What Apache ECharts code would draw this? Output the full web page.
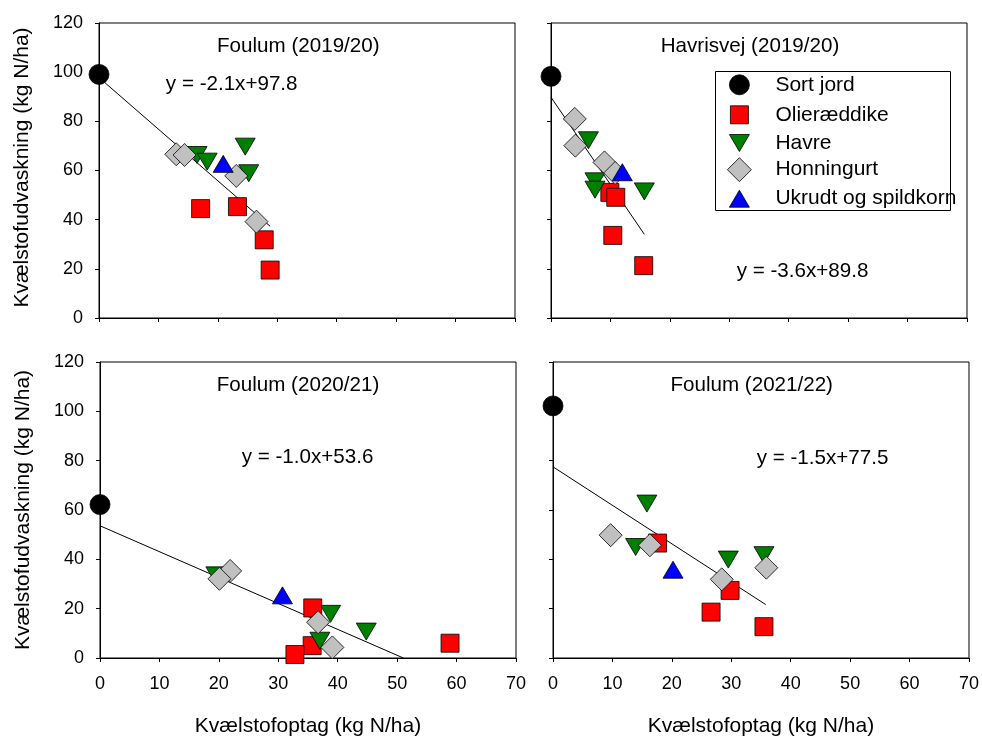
<!DOCTYPE html>
<html><head><meta charset="utf-8">
<script src="https://cdn.jsdelivr.net/npm/echarts@6/dist/echarts.min.js"></script>
<style>html,body{margin:0;padding:0;background:#fff}#c{width:982px;height:738px}</style>
</head><body><div id="c"></div>
<script>
const FONT = 'Liberation Sans, Arial, Helvetica, sans-serif';

// ---- text ----
const panelTitles = ['Foulum (2019/20)', 'Havrisvej (2019/20)', 'Foulum (2020/21)', 'Foulum (2021/22)'];
const equations = ['y = -2.1x+97.8', 'y = -3.6x+89.8', 'y = -1.0x+53.6', 'y = -1.5x+77.5'];
const groupNames = ['Sort jord', 'Olieræddike', 'Havre', 'Honningurt', 'Ukrudt og spildkorn'];
const xTitle = 'Kvælstofoptag (kg N/ha)';
const yTitle = 'Kvælstofudvaskning (kg N/ha)';

// ---- axes ----
const xMin = 0, xMax = 70, xStep = 10;
const yMin = 0, yMax = 120, yStep = 20;

// ---- data: one list per group, one sub-list per panel ([x, y]) ----
const sortJord = [
  [[0, 99.1]],
  [[0, 98.3]],
  [[0, 62.2]],
  [[0, 102.2]]
];
const olieraeddike = [
  [[17.1, 44.5], [23.3, 45.3], [27.8, 31.8], [28.8, 19.5]],
  [[9.9, 51.1], [10.9, 49.1], [10.4, 33.6], [15.6, 21.3]],
  [[35.8, 20.3], [35.7, 5.0], [32.8, 1.4], [58.9, 6.0]],
  [[17.6, 46.6], [29.8, 27.4], [26.6, 18.6], [35.5, 12.7]]
];
const havre = [
  [[24.6, 69.7], [16.5, 66.3], [18.2, 63.6], [25.2, 58.9]],
  [[6.3, 72.3], [7.4, 55.6], [7.4, 52.2], [15.7, 51.5]],
  [[19.5, 33.5], [38.8, 17.9], [44.8, 10.7], [37.0, 7.0]],
  [[15.8, 62.6], [13.9, 45.0], [29.5, 39.9], [35.5, 41.7]]
];
const honningurt = [
  [[13.0, 66.6], [14.4, 66.3], [23.1, 57.8], [26.5, 39.2]],
  [[4.0, 81.0], [4.1, 70.1], [9.0, 63.3], [10.8, 59.0]],
  [[21.9, 35.3], [20.1, 32.1], [36.7, 14.5], [39.1, 4.3]],
  [[9.7, 49.8], [16.3, 45.7], [28.4, 31.9], [35.9, 36.6]]
];
const ukrudt = [
  [[20.9, 62.7]],
  [[12.0, 59.3]],
  [[30.7, 25.4]],
  [[20.2, 35.8]]
];

// regression lines
const fitSlope = [-2.1, -3.55, -1.05, -1.56];
const fitIntercept = [97.8, 89.8, 53.6, 77.5];
const fitXEnd = [28.8, 15.7, 51.0, 35.8];

// ---- styles ----
const groupData = [sortJord, olieraeddike, havre, honningurt, ukrudt];
const groupColors = ['#000000', '#FF0000', '#008000', '#C0C0C0', '#0000FF'];
const DOWN_TRI = 'path://M0,0L20,0L10,17Z';
const groupSymbols = ['circle', 'rect', DOWN_TRI, 'diamond', 'triangle'];
const groupSizes = [20, 18, [20, 17], 23, [20, 17]];
const legendSizes = [[20, 20], [18, 18], [20, 17], [24, 24], [20, 17]];

const grids = [
  {left: 99, top: 23, width: 416, height: 295},
  {left: 551, top: 23, width: 416, height: 295},
  {left: 100, top: 362, width: 416, height: 296},
  {left: 553, top: 362, width: 416, height: 296}
];

const chart = echarts.init(document.getElementById('c'), null, {renderer: 'canvas'});

const xAxes = [], yAxes = [], series = [];
grids.forEach((g, i) => {
  const bottomRow = i >= 2, leftCol = i % 2 === 0;
  xAxes.push({
    gridIndex: i, type: 'value', min: xMin, max: xMax, interval: xStep,
    axisLine: {show: true, lineStyle: {color: '#000', width: 1}},
    axisTick: {show: true, length: 4, lineStyle: {color: '#000'}},
    splitLine: {show: false},
    axisLabel: {show: bottomRow, fontSize: 18, fontFamily: FONT, color: '#000', margin: 17},
    name: bottomRow ? xTitle : '', nameLocation: 'middle', nameGap: 58,
    nameTextStyle: {fontSize: 21, fontFamily: FONT, color: '#000'}
  });
  yAxes.push({
    gridIndex: i, type: 'value', min: yMin, max: yMax, interval: yStep,
    axisLine: {show: true, lineStyle: {color: '#000', width: 1}},
    axisTick: {show: true, length: 4, lineStyle: {color: '#000'}},
    splitLine: {show: false},
    axisLabel: {show: leftCol, fontSize: 18, fontFamily: FONT, color: '#000', margin: 16},
    name: leftCol ? yTitle : '', nameLocation: 'middle', nameGap: 66,
    nameTextStyle: {fontSize: 21, fontFamily: FONT, color: '#000',
      padding: i === 0 ? [0, 0, 0, 6] : 0}
  });
  series.push({
    type: 'line', name: 'fit' + i, xAxisIndex: i, yAxisIndex: i,
    data: [[0, fitIntercept[i]], [fitXEnd[i], fitIntercept[i] + fitSlope[i] * fitXEnd[i]]],
    symbol: 'none', lineStyle: {color: '#000', width: 1}, z: 1, silent: true, clip: true
  });
  groupNames.forEach((name, k) => {
    series.push({
      type: 'scatter', name: name, xAxisIndex: i, yAxisIndex: i,
      data: groupData[k][i], symbol: groupSymbols[k], symbolSize: groupSizes[k],
      itemStyle: {color: groupColors[k], borderColor: '#000', borderWidth: 0.8, opacity: 1},
      emphasis: {disabled: true}, z: 2, clip: false, silent: true
    });
  });
});

// legend (one component per entry so each icon keeps its own size)
const legendIconX = 739, legendTextX = 775;
const legendRowY = [84.3, 113.3, 141, 169.3, 196.7];
const legends = groupNames.map((name, k) => {
  const [w, h] = legendSizes[k];
  return {
    data: [name], orient: 'vertical', selectedMode: false,
    left: legendIconX - w / 2, top: legendRowY[k] - h / 2,
    itemWidth: w, itemHeight: h, padding: 0, itemGap: 0,
    itemStyle: {borderColor: '#000', borderWidth: 0.8},
    textStyle: {fontSize: 21, fontFamily: FONT, color: '#000', lineHeight: h,
      padding: [0, 0, 0, legendTextX - (legendIconX - w / 2 + w + 5)]}
  };
});

const textPos = {
  titles: [[298.3, 46], [750, 46], [298, 385], [751.7, 385]],
  eqs: [[231.7, 84], [802.5, 271], [307.5, 457.5], [822.5, 458]]
};
const graphics = [
  {type: 'rect', shape: {x: 715.5, y: 71.5, width: 235, height: 139},
   style: {fill: 'none', stroke: '#000', lineWidth: 1}, z: 10, silent: true}
];
panelTitles.forEach((t, i) => graphics.push({
  type: 'text', x: textPos.titles[i][0], y: textPos.titles[i][1], silent: true,
  style: {text: t, fontSize: 20.6, fontFamily: FONT, fill: '#000', align: 'center', verticalAlign: 'middle'}
}));
equations.forEach((t, i) => graphics.push({
  type: 'text', x: textPos.eqs[i][0], y: textPos.eqs[i][1], silent: true,
  style: {text: t, fontSize: 20.6, fontFamily: FONT, fill: '#000', align: 'center', verticalAlign: 'middle'}
}));

chart.setOption({
  animation: false,
  backgroundColor: '#fff',
  grid: grids.map(g => Object.assign({show: true, borderColor: '#000', borderWidth: 1, backgroundColor: 'transparent'}, g)),
  xAxis: xAxes,
  yAxis: yAxes,
  legend: legends,
  series: series,
  graphic: graphics
});
</script>
</body></html>
